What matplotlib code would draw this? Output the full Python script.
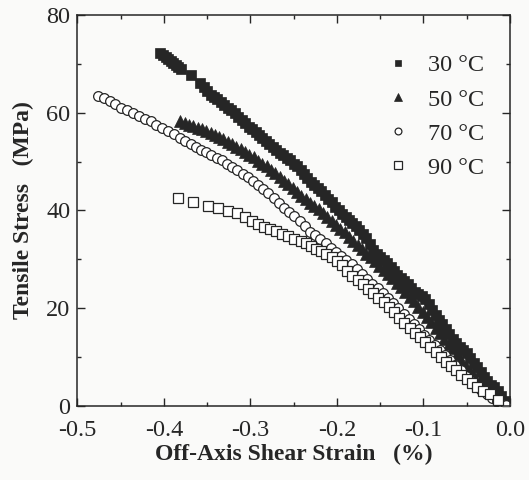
#!/usr/bin/env python3
"""
Off-axis shear strain vs tensile stress at four temperatures
"""
import matplotlib
matplotlib.use('Agg')
import matplotlib.pyplot as plt
from matplotlib.ticker import MultipleLocator

# 30 °C (filled square)
x30 = [-0.404, -0.401, -0.398, -0.395, -0.392, -0.389, -0.386, -0.383, -0.380,
       -0.368,
       -0.358, -0.354, -0.350, -0.346, -0.342, -0.338, -0.334, -0.330, -0.326,
       -0.322, -0.318, -0.314, -0.310, -0.306, -0.302,
       -0.298, -0.294, -0.290, -0.286, -0.282, -0.278, -0.274, -0.270, -0.266,
       -0.262, -0.258, -0.254, -0.250, -0.246, -0.242,
       -0.238, -0.234, -0.230, -0.226, -0.222, -0.218, -0.214, -0.210, -0.206,
       -0.202, -0.198, -0.194, -0.190, -0.186, -0.182,
       -0.178, -0.174, -0.170, -0.166, -0.162, -0.158, -0.154, -0.150, -0.146,
       -0.142, -0.138, -0.134, -0.130, -0.126, -0.122,
       -0.118, -0.114, -0.110, -0.106, -0.102, -0.098, -0.094, -0.090, -0.086,
       -0.082, -0.078, -0.074, -0.070, -0.066, -0.062,
       -0.058, -0.054, -0.050, -0.046, -0.042, -0.038, -0.034, -0.030, -0.026,
       -0.022, -0.018, -0.014, -0.010, -0.006, -0.002]
y30 = [72.2, 71.8, 71.4, 71.0, 70.6, 70.2, 69.8, 69.4, 69.0,
       67.8,
       66.0, 65.2, 64.4, 63.7, 63.2, 62.7, 62.2, 61.6, 61.0,
       60.5, 59.9, 59.2, 58.5, 57.8, 57.1,
       56.6, 56.1, 55.5, 54.9, 54.3, 53.6, 53.0, 52.3, 51.8,
       51.3, 50.8, 50.3, 49.6, 49.0, 48.3,
       47.4, 46.6, 45.8, 45.2, 44.6, 44.0, 43.1, 42.4, 41.7,
       40.8, 40.0, 39.3, 38.6, 38.0, 37.4,
       36.8, 36.0, 35.2, 34.4, 33.2, 31.9, 31.2, 30.5, 29.9,
       29.2, 28.4, 27.6, 26.9, 26.2, 25.6,
       24.9, 24.1, 23.4, 22.9, 22.6, 21.8, 20.8, 19.7, 18.6,
       17.6, 16.7, 15.7, 14.8, 13.8, 12.8,
       12.1, 11.4, 10.8, 9.9, 8.9, 8.0, 7.0, 6.0, 5.1,
       4.4, 3.8, 3.0, 2.0, 1.0, 0.3]

# 50 °C (filled triangle)
x50 = [-0.381, -0.376, -0.371, -0.366, -0.361, -0.356, -0.351, -0.346,
       -0.341, -0.336, -0.331, -0.326, -0.321, -0.316, -0.311, -0.306,
       -0.301, -0.296, -0.291, -0.286, -0.281, -0.276, -0.271, -0.266,
       -0.261, -0.256, -0.251, -0.246, -0.241, -0.236, -0.231, -0.226,
       -0.221, -0.216, -0.211, -0.206, -0.201, -0.196, -0.191, -0.186,
       -0.181, -0.176, -0.171, -0.166, -0.161, -0.156, -0.151, -0.146,
       -0.141, -0.136, -0.131, -0.126, -0.121, -0.116, -0.111, -0.106,
       -0.101, -0.096, -0.091, -0.086, -0.081, -0.076, -0.071, -0.066,
       -0.061, -0.056, -0.051, -0.046, -0.041, -0.036, -0.031, -0.026,
       -0.021, -0.016, -0.011, -0.006, -0.002]
y50 = [58.2, 57.8, 57.5, 57.2, 56.9, 56.6, 56.2, 55.9,
       55.5, 55.0, 54.6, 54.1, 53.6, 53.0, 52.5, 51.9,
       51.4, 50.9, 50.2, 49.6, 49.0, 48.3, 47.7, 46.9,
       46.1, 45.4, 44.6, 43.8, 43.0, 42.3, 41.6, 40.9,
       40.3, 39.5, 38.7, 37.9, 37.1, 36.3, 35.5, 34.6,
       33.8, 33.0, 32.1, 31.2, 30.4, 29.6, 28.7, 27.8,
       27.0, 26.1, 25.2, 24.3, 23.4, 22.4, 21.4, 20.3,
       19.2, 18.2, 17.1, 16.0, 14.9, 13.8, 12.7, 11.8,
       10.7, 9.5, 8.2, 7.2, 6.1, 4.8, 4.1, 3.2,
       2.6, 2.0, 1.3, 0.7, 0.2]

# 70 °C (open circle)
x70 = [-0.476, -0.469, -0.462, -0.456, -0.449, -0.442, -0.435, -0.429,
       -0.422, -0.415, -0.409, -0.402, -0.395, -0.388, -0.381, -0.375,
       -0.369, -0.363, -0.357, -0.351, -0.345, -0.339, -0.333, -0.327,
       -0.321, -0.315, -0.309, -0.303, -0.297, -0.291, -0.285, -0.279,
       -0.273, -0.267, -0.261, -0.255, -0.249, -0.243, -0.237, -0.231,
       -0.225, -0.219, -0.213, -0.207, -0.201, -0.195, -0.189, -0.183,
       -0.177, -0.171, -0.165, -0.159, -0.153, -0.147, -0.141, -0.135,
       -0.129, -0.123, -0.117, -0.111, -0.105, -0.099, -0.093, -0.087,
       -0.081, -0.075, -0.069, -0.063, -0.057, -0.051, -0.045, -0.039,
       -0.033, -0.027, -0.021, -0.015, -0.009, -0.004]
y70 = [63.4, 62.9, 62.4, 61.7, 61.0, 60.6, 59.9, 59.3,
       58.7, 58.2, 57.5, 56.9, 56.3, 55.6, 54.8, 54.2,
       53.6, 53.0, 52.4, 51.9, 51.4, 50.8, 50.3, 49.6,
       48.9, 48.2, 47.5, 46.8, 46.1, 45.2, 44.4, 43.6,
       42.6, 41.5, 40.6, 39.7, 38.8, 37.8, 36.8, 35.7,
       34.9, 34.2, 33.3, 32.4, 31.6, 30.7, 29.9, 29.0,
       28.1, 27.1, 26.0, 25.0, 24.1, 23.1, 22.1, 21.0,
       20.0, 18.9, 17.9, 16.8, 15.7, 14.6, 13.6, 12.5,
       11.5, 10.4, 9.4, 8.3, 7.3, 6.2, 5.1, 4.1,
       3.2, 2.4, 1.7, 1.0, 0.5, 0.2]

# 90 °C (open square)
x90 = [-0.384, -0.366, -0.349, -0.337, -0.326, -0.315, -0.306, -0.298,
       -0.291, -0.284, -0.277, -0.270, -0.263, -0.256, -0.249, -0.242,
       -0.236, -0.230, -0.224, -0.218, -0.212, -0.206, -0.200, -0.194,
       -0.188, -0.182, -0.176, -0.170, -0.164, -0.158, -0.152, -0.146,
       -0.140, -0.134, -0.128, -0.122, -0.116, -0.110, -0.104, -0.098,
       -0.092, -0.086, -0.080, -0.074, -0.068, -0.062, -0.056, -0.050,
       -0.044, -0.038, -0.031, -0.023, -0.014]
y90 = [42.6, 41.7, 41.0, 40.5, 39.9, 39.4, 38.6, 37.9,
       37.3, 36.7, 36.3, 35.8, 35.1, 34.7, 34.2, 33.8,
       33.3, 32.8, 32.2, 31.7, 31.0, 30.4, 29.6, 28.8,
       27.6, 26.6, 25.8, 24.9, 24.0, 23.1, 22.2, 21.3,
       20.2, 19.2, 18.1, 17.0, 16.0, 15.0, 14.1, 13.2,
       12.1, 11.0, 10.0, 9.0, 8.1, 7.3, 6.3, 5.5,
       4.7, 3.9, 3.1, 2.4, 1.2]

labels = ['30 °C', '50 °C', '70 °C', '90 °C']

ink = '#262626'
bg = '#fafaf9'

plt.rcParams['font.family'] = ['Liberation Serif', 'DejaVu Serif']

fig = plt.figure(figsize=(5.29, 4.8), dpi=100, facecolor=bg)
ax = fig.add_axes([0.146, 0.154, 0.818, 0.815], facecolor=bg)

ax.plot(x30, y30, ls='none', marker='s', ms=6.5, mfc=ink, mec=ink, mew=0.5, label=labels[0])
ax.plot(x50, y50, ls='none', marker='^', ms=8, mfc=ink, mec=ink, mew=0.5, label=labels[1])
ax.plot(x70, y70, ls='none', marker='o', ms=7, mfc='white', mec=ink, mew=0.9, label=labels[2])
ax.plot(x90, y90, ls='none', marker='s', ms=7.5, mfc='white', mec=ink, mew=0.9, label=labels[3])

ax.set_xlim(-0.5, 0.0)
ax.set_ylim(0, 80)
ax.xaxis.set_major_locator(MultipleLocator(0.1))
ax.xaxis.set_minor_locator(MultipleLocator(0.05))
ax.yaxis.set_major_locator(MultipleLocator(20))
ax.yaxis.set_minor_locator(MultipleLocator(10))
ax.set_xticklabels([f'{v:.1f}' for v in ax.get_xticks()])
ax.tick_params(which='both', direction='in', top=True, right=True, color=ink, width=1)
ax.tick_params(which='major', length=6, labelsize=17.5, labelcolor=ink)
ax.tick_params(axis='x', which='major', pad=10)
ax.tick_params(axis='y', which='major', pad=5)
ax.tick_params(which='minor', length=3)
for s in ax.spines.values():
    s.set_color(ink)
    s.set_linewidth(1.1)

ax.set_xlabel('Off-Axis Shear Strain   (%)', fontsize=17, fontweight='bold', color=ink, labelpad=2)
ax.set_ylabel('Tensile Stress   (MPa)', fontsize=17, fontweight='bold', color=ink, labelpad=9)

leg = ax.legend(loc='upper right', bbox_to_anchor=(0.99, 0.955), frameon=False,
                fontsize=17.5, markerscale=0.7, handlelength=1.0, handletextpad=0.7,
                labelspacing=0.5, labelcolor=ink)

plt.savefig('out.png', dpi=100, facecolor=bg)
